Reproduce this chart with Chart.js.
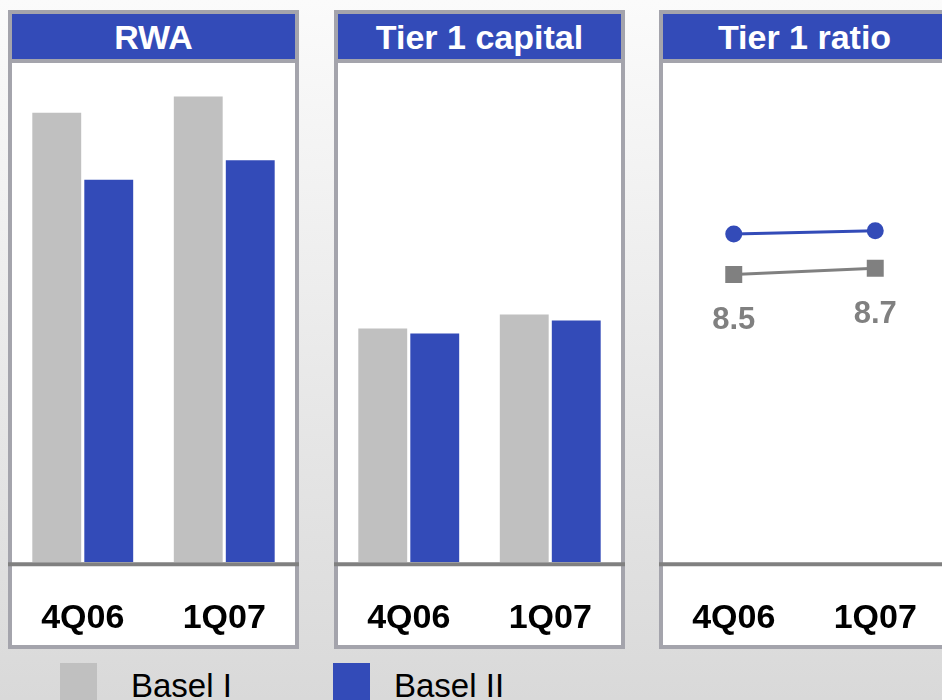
<!DOCTYPE html>
<html>
<head>
<meta charset="utf-8">
<script src="https://cdn.jsdelivr.net/npm/chart.js@4.4.1/dist/chart.umd.min.js"></script>
<style>
  body {
    margin: 0;
    width: 942px;
    height: 700px;
    overflow: hidden;
    position: relative;
    background: linear-gradient(#fbfbfb, #d9d9d9);
    font-family: 'Liberation Sans', Arial, sans-serif;
  }
  .panel {
    position: absolute;
    top: 10px;
    width: 283px;
    height: 631px;
    border: 4px solid #a4a4ac;
    background: #fff;
  }
  .panel .head {
    height: 45px;
    border-bottom: 4px solid #a4a4ac;
    background: #334bb8;
    color: #fff;
    font-weight: bold;
    font-size: 34px;
    line-height: 47px;
    text-align: center;
  }
  canvas.plot {
    position: absolute;
    top: 63px;
  }
  .swatch {
    position: absolute;
    top: 663px;
    width: 37px;
    height: 37px;
  }
  .legend-text {
    position: absolute;
    top: 670px;
    font-size: 33px;
    line-height: 32px;
    color: #000;
  }
</style>
</head>
<body>
<div class="swatch" style="left:60px; background:#c0c0c0;"></div>
<div class="legend-text" style="left:131px;">Basel I</div>
<div class="swatch" style="left:333px; background:#334bb8;"></div>
<div class="legend-text" style="left:394px;">Basel II</div>

<script>
const quarters = ['4Q06', '1Q07'];
const seriesNames = ['Basel I', 'Basel II'];
const panelTitles = ['RWA', 'Tier 1 capital', 'Tier 1 ratio'];

// RWA, EUR bn
const rwaBaselI = [275, 285];
const rwaBaselII = [234, 246];
// Tier 1 capital, EUR bn
const tier1BaselI = [23.4, 24.8];
const tier1BaselII = [22.9, 24.2];
// Tier 1 ratio, %
const ratioBaselI = [8.5, 8.7];
const ratioBaselII = [9.8, 9.9];

const GREY = '#c0c0c0';
const BLUE = '#334bb8';
const panelLeft = [8, 334, 659];

Chart.defaults.font.family = "'Liberation Sans', Arial, sans-serif";

// thick grey base line across the whole panel, borders included
const baseLine = {
  id: 'baseLine',
  afterDatasetsDraw(chart) {
    const ctx = chart.ctx;
    const y = chart.chartArea.bottom + 2;
    ctx.save();
    ctx.strokeStyle = '#808080';
    ctx.lineWidth = 4;
    ctx.beginPath();
    ctx.moveTo(0, y);
    ctx.lineTo(chart.width, y);
    ctx.stroke();
    ctx.restore();
  }
};

// value labels under the Basel I ratio points
const ratioLabels = {
  id: 'ratioLabels',
  afterDatasetsDraw(chart) {
    const ctx = chart.ctx;
    const meta = chart.getDatasetMeta(1);
    ctx.save();
    ctx.fillStyle = '#808080';
    ctx.font = "bold 31px 'Liberation Sans', Arial, sans-serif";
    ctx.textAlign = 'center';
    ctx.textBaseline = 'middle';
    meta.data.forEach((pt, i) => {
      ctx.fillText(ratioBaselI[i].toFixed(1), pt.x, pt.y + 46);
    });
    ctx.restore();
  }
};

function makePanel(i) {
  const panel = document.createElement('div');
  panel.className = 'panel';
  panel.style.left = panelLeft[i] + 'px';
  const head = document.createElement('div');
  head.className = 'head';
  head.textContent = panelTitles[i];
  panel.appendChild(head);
  document.body.appendChild(panel);

  // canvas runs a little past the panel bottom; the extra strip stays empty
  const canvas = document.createElement('canvas');
  canvas.className = 'plot';
  canvas.width = 291;
  canvas.height = 620;
  canvas.style.left = panelLeft[i] + 'px';
  document.body.appendChild(canvas);
  return canvas;
}

function baseOptions(yMin, yMax, step) {
  return {
    responsive: false,
    animation: false,
    layout: { autoPadding: false, padding: { left: 4, right: 4, top: 0, bottom: 8 } },
    plugins: { legend: { display: false }, tooltip: { enabled: false } },
    scales: {
      x: {
        offset: true,
        grid: { display: false, drawTicks: false },
        border: { display: false },
        ticks: {
          color: '#000',
          padding: 36,
          font: { size: 34, weight: 'bold' }
        },
        // keep the plot area as wide as the panel interior
        afterFit(scale) {
          scale.paddingLeft = 0;
          scale.paddingRight = 0;
        }
      },
      y: { display: false, min: yMin, max: yMax, ticks: { stepSize: step } }
    }
  };
}

function barChart(canvas, seriesA, seriesB, yMax) {
  const opts = baseOptions(0, yMax, yMax / 10);
  opts.datasets = { bar: { categoryPercentage: 0.735, barPercentage: 0.94 } };
  return new Chart(canvas, {
    type: 'bar',
    data: {
      labels: quarters,
      datasets: [
        { label: seriesNames[0], data: seriesA, backgroundColor: GREY },
        { label: seriesNames[1], data: seriesB, backgroundColor: BLUE }
      ]
    },
    options: opts,
    plugins: [baseLine]
  });
}

barChart(makePanel(0), rwaBaselI, rwaBaselII, 305.5);
barChart(makePanel(1), tier1BaselI, tier1BaselII, 50);

new Chart(makePanel(2), {
  type: 'line',
  data: {
    labels: quarters,
    datasets: [
      {
        label: seriesNames[1],
        data: ratioBaselII,
        borderColor: BLUE,
        backgroundColor: BLUE,
        borderWidth: 3,
        pointStyle: 'circle',
        pointRadius: 8.5,
        pointBorderWidth: 0
      },
      {
        label: seriesNames[0],
        data: ratioBaselI,
        borderColor: '#808080',
        backgroundColor: '#808080',
        borderWidth: 3,
        pointStyle: 'rect',
        pointRadius: 12,
        pointBorderWidth: 0
      }
    ]
  },
  options: baseOptions(-0.72, 15.28, 1),
  plugins: [baseLine, ratioLabels]
});
</script>
</body>
</html>
